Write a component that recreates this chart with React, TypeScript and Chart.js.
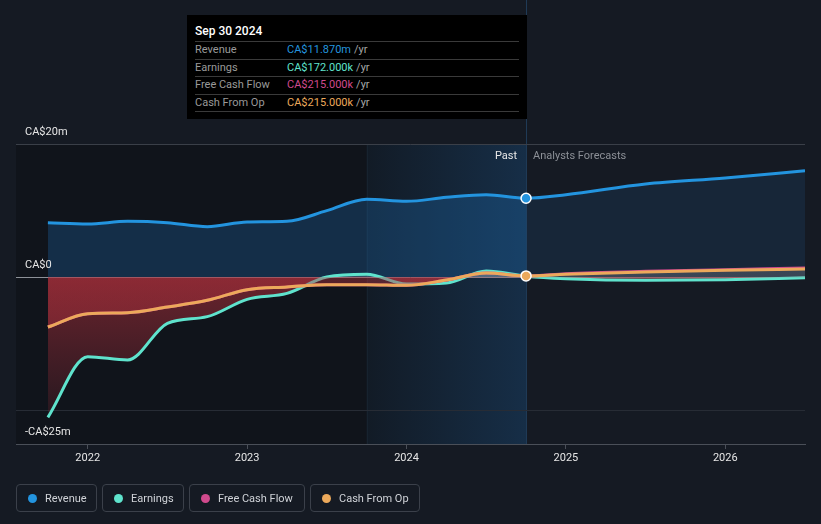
import React, { useEffect, useRef } from 'react';
import { Chart, registerables } from 'chart.js';

Chart.register(...registerables);

// ---- data (CA$ millions, trailing twelve months / analyst forecasts) ----
const periods = [2021.75, 2022.0, 2022.25, 2022.5, 2022.75, 2023.0, 2023.25, 2023.5, 2023.75, 2024.0, 2024.25, 2024.5, 2024.75, 2025.0, 2025.5, 2026.0, 2026.5];
const revenue = [8.2, 8.0, 8.4, 8.2, 7.6, 8.3, 8.4, 10.0, 11.7, 11.4, 12.0, 12.4, 11.87, 12.4, 14.0, 14.9, 16.0];
const earnings = [-21.0, -11.9, -12.4, -6.9, -5.9, -3.3, -2.4, 0.05, 0.45, -1.0, -0.85, 0.95, 0.172, -0.2, -0.45, -0.35, -0.05];
const freeCashFlow = [-7.45, -5.45, -5.3, -4.45, -3.45, -1.85, -1.45, -1.1, -1.1, -1.2, -0.4, 0.65, 0.215, 0.55, 0.9, 1.15, 1.4];
const cashFromOp = [-7.45, -5.45, -5.3, -4.45, -3.45, -1.85, -1.45, -1.1, -1.1, -1.2, -0.4, 0.65, 0.215, 0.45, 0.8, 1.05, 1.25];

const xTickValues = [2022, 2023, 2024, 2025, 2026];
const yGridValues = [-25, -20, 0, 20];
const yLabelValues = [20, 0, -25];
const yLabelText: Record<number, string> = { 20: 'CA$20m', 0: 'CA$0', [-25]: '-CA$25m' };
const highlightStart = 2023.75;
const latestPeriod = 2024.75;
const latestIndex = periods.indexOf(latestPeriod);

const tooltipTitle = 'Sep 30 2024';
const tooltipRows = [
  { label: 'Revenue', value: 'CA$11.870m', color: '#2394df' },
  { label: 'Earnings', value: 'CA$172.000k', color: '#5fe3cd' },
  { label: 'Free Cash Flow', value: 'CA$215.000k', color: '#d04a8d' },
  { label: 'Cash From Op', value: 'CA$215.000k', color: '#eca95b' },
];
const legendItems = [
  { label: 'Revenue', color: '#2394df', width: 81 },
  { label: 'Earnings', color: '#5fe3cd', width: 82 },
  { label: 'Free Cash Flow', color: '#d04a8d', width: 116 },
  { label: 'Cash From Op', color: '#eca95b', width: 110 },
];

const FONT = 'Roboto, "Noto Sans", sans-serif';
const BLUE = '#2394df';
const TEAL = '#5fe3cd';
const PINK = '#d04a8d';
const ORANGE = '#eca95b';

const toPoints = (arr: number[]) => periods.map((x, i) => ({ x, y: arr[i] }));

const zeroSplitFill = (redTop: string, redBottom: string) => (ctx: any) => {
  const chart = ctx.chart;
  const ca = chart.chartArea;
  if (!ca) return 'rgba(0,0,0,0)';
  const y0 = chart.scales.y.getPixelForValue(0);
  const p = Math.min(1, Math.max(0, (y0 - ca.top) / (ca.bottom - ca.top)));
  const g = chart.ctx.createLinearGradient(0, ca.top, 0, ca.bottom);
  g.addColorStop(0, 'rgba(150,150,158,0.28)');
  g.addColorStop(p, 'rgba(150,150,158,0.28)');
  g.addColorStop(p, redTop);
  g.addColorStop(1, redBottom);
  return g;
};

const backgroundPlugin = {
  id: 'bgRegions',
  beforeDraw(chart: any) {
    const { ctx, chartArea: ca, scales } = chart;
    const xs = scales.x;
    const xh = xs.getPixelForValue(highlightStart);
    const xl = xs.getPixelForValue(latestPeriod);
    ctx.save();
    ctx.fillStyle = '#10141b';
    ctx.fillRect(ca.left, ca.top, xh - ca.left, ca.bottom - ca.top);
    const g = ctx.createLinearGradient(xh, 0, xl, 0);
    g.addColorStop(0, '#121b26');
    g.addColorStop(1, '#162e47');
    ctx.fillStyle = g;
    ctx.fillRect(xh, ca.top, xl - xh, ca.bottom - ca.top);
    ctx.strokeStyle = '#17232f';
    ctx.lineWidth = 1;
    ctx.beginPath();
    ctx.moveTo(Math.round(xh) + 0.5, ca.top);
    ctx.lineTo(Math.round(xh) + 0.5, ca.bottom);
    ctx.stroke();
    ctx.strokeStyle = '#1f3a56';
    ctx.beginPath();
    ctx.moveTo(Math.round(xl) + 0.5, 0);
    ctx.lineTo(Math.round(xl) + 0.5, ca.bottom);
    ctx.stroke();
    ctx.restore();
  },
};

const labelsPlugin = {
  id: 'textLabels',
  afterDatasetsDraw(chart: any) {
    const { ctx, chartArea: ca, scales } = chart;
    ctx.save();
    ctx.font = `11px ${FONT}`;
    ctx.textBaseline = 'middle';
    ctx.textAlign = 'left';
    ctx.fillStyle = '#e6e6e6';
    yLabelValues.forEach((v) => {
      const y = scales.y.getPixelForValue(v) - 12;
      ctx.fillText(yLabelText[v], ca.left + 9, y);
    });
    const xl = scales.x.getPixelForValue(latestPeriod);
    const ty = ca.top + 12;
    ctx.textAlign = 'right';
    ctx.fillStyle = '#e8e8e8';
    ctx.fillText('Past', xl - 9, ty);
    ctx.textAlign = 'left';
    ctx.fillStyle = '#8c9097';
    ctx.fillText('Analysts Forecasts', xl + 7, ty);
    ctx.restore();
  },
};

export default function App() {
  const canvasRef = useRef<HTMLCanvasElement | null>(null);

  useEffect(() => {
    const canvas = canvasRef.current;
    if (!canvas) return;
    const pointRadius = (ctx: any) => (ctx.dataIndex === latestIndex ? 5 : 0);
    const chart = new Chart(canvas, {
      type: 'line',
      data: {
        datasets: [
          {
            label: 'Cash From Op',
            data: toPoints(cashFromOp),
            borderColor: ORANGE,
            borderWidth: 3,
            fill: 'origin',
            backgroundColor: zeroSplitFill('rgba(185,50,62,0.42)', 'rgba(185,50,62,0.25)'),
            pointRadius,
            pointHoverRadius: pointRadius,
            pointBackgroundColor: ORANGE,
            pointBorderColor: '#ffffff',
            pointBorderWidth: 1.5,
            cubicInterpolationMode: 'monotone',
            order: 0,
          },
          {
            label: 'Free Cash Flow',
            data: toPoints(freeCashFlow),
            borderColor: PINK,
            borderWidth: 3,
            fill: false,
            pointRadius: 0,
            cubicInterpolationMode: 'monotone',
            order: 1,
          },
          {
            label: 'Earnings',
            data: toPoints(earnings),
            borderColor: TEAL,
            borderWidth: 3,
            fill: 'origin',
            backgroundColor: zeroSplitFill('rgba(180,48,60,0.55)', 'rgba(180,48,60,0.06)'),
            pointRadius: 0,
            cubicInterpolationMode: 'monotone',
            order: 2,
          },
          {
            label: 'Revenue',
            data: toPoints(revenue),
            borderColor: BLUE,
            borderWidth: 3,
            fill: 'origin',
            backgroundColor: 'rgba(30,109,179,0.3)',
            segment: {
              backgroundColor: (c: any) => (c.p0.parsed.x >= latestPeriod ? 'rgba(35,120,200,0.13)' : undefined),
            },
            pointRadius,
            pointHoverRadius: pointRadius,
            pointBackgroundColor: BLUE,
            pointBorderColor: '#ffffff',
            pointBorderWidth: 1.5,
            cubicInterpolationMode: 'monotone',
            order: 3,
          },
        ],
      },
      options: {
        responsive: false,
        animation: false,
        events: [],
        layout: { padding: { left: 16, right: 16, top: 144, bottom: 0 } },
        plugins: { legend: { display: false }, tooltip: { enabled: false } },
        scales: {
          x: {
            type: 'linear',
            min: 2021.55,
            max: 2026.5,
            afterBuildTicks: (s: any) => {
              s.ticks = xTickValues.map((v) => ({ value: v }));
            },
            afterFit: (s: any) => {
              s.height = 80;
            },
            ticks: {
              callback: (v: any) => String(v),
              color: '#e6e6e6',
              font: { family: FONT, size: 11 },
              padding: 3,
              maxRotation: 0,
              autoSkip: false,
            },
            grid: { drawOnChartArea: false, drawTicks: true, tickLength: 5, color: '#4a4f58' },
            border: { display: true, color: '#4a4f58' },
          },
          y: {
            type: 'linear',
            min: -25,
            max: 20,
            afterBuildTicks: (s: any) => {
              s.ticks = yGridValues.map((v) => ({ value: v }));
            },
            afterFit: (s: any) => {
              s.width = 0;
            },
            ticks: { display: false },
            grid: {
              drawTicks: false,
              color: (c: any) => (c.tick && c.tick.value === 0 ? '#8d9198' : c.tick && c.tick.value === 20 ? '#3a3f48' : '#272c35'),
            },
            border: { display: false },
          },
        },
      },
      plugins: [backgroundPlugin, labelsPlugin],
    } as any);
    return () => chart.destroy();
  }, []);

  return (
    <div
      style={{
        position: 'absolute',
        left: 0,
        top: 0,
        width: 821,
        height: 524,
        background: '#151a23',
        overflow: 'hidden',
        fontFamily: FONT,
      }}
    >
      <canvas ref={canvasRef} width={821} height={524} style={{ position: 'absolute', left: 0, top: 0 }} />
      <div
        style={{
          position: 'absolute',
          left: 187,
          top: 15,
          width: 340,
          height: 104,
          background: '#000000',
          boxSizing: 'border-box',
          padding: '0 8px',
          fontSize: 11,
        }}
      >
        <div style={{ height: 26, lineHeight: '32px', color: '#ffffff', fontWeight: 500, fontSize: 12 }}>{tooltipTitle}</div>
        {tooltipRows.map((r) => (
          <div
            key={r.label}
            style={{
              height: 17.5,
              lineHeight: '16.5px',
              boxSizing: 'border-box',
              borderTop: '1px solid #3a3a3a',
              display: 'flex',
              width: 324,
            }}
          >
            <span style={{ width: 92, color: '#9a9a9a' }}>{r.label}</span>
            <span style={{ color: r.color }}>{r.value}</span>
            <span style={{ color: '#a6a6a6', marginLeft: 3 }}>/yr</span>
          </div>
        ))}
        <div style={{ width: 324, borderTop: '1px solid #3a3a3a' }} />
      </div>
      <div style={{ position: 'absolute', left: 16, top: 484, display: 'flex', gap: 5 }}>
        {legendItems.map((it) => (
          <div
            key={it.label}
            style={{
              width: it.width,
              height: 28,
              boxSizing: 'border-box',
              border: '1px solid #3b404a',
              borderRadius: 4,
              display: 'flex',
              alignItems: 'center',
              paddingLeft: 11,
              fontSize: 11,
              color: '#d0d3d8',
            }}
          >
            <span
              style={{
                width: 9,
                height: 9,
                borderRadius: '50%',
                background: it.color,
                display: 'inline-block',
                marginRight: 8,
              }}
            />
            <span>{it.label}</span>
          </div>
        ))}
      </div>
    </div>
  );
}
